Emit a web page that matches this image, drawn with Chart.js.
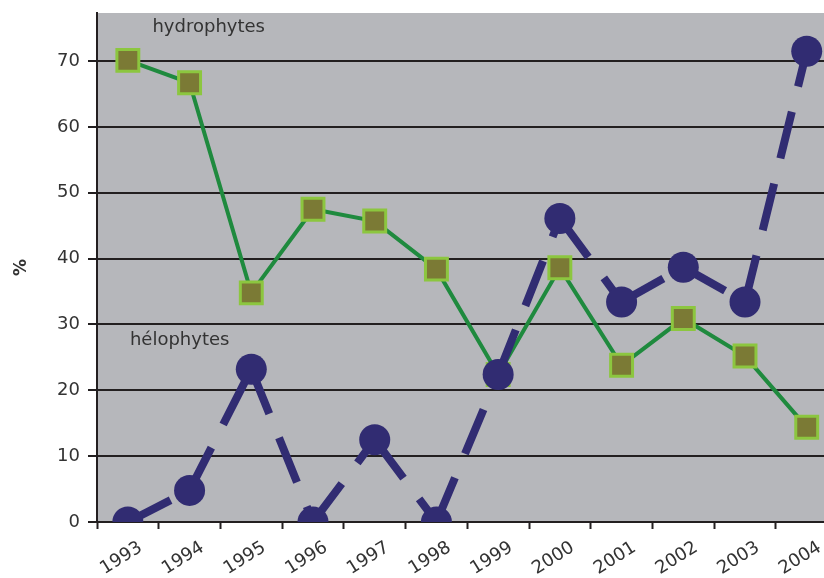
<!DOCTYPE html>
<html>
<head>
<meta charset="utf-8">
<script src="https://cdn.jsdelivr.net/npm/chart.js@4/dist/chart.umd.min.js"></script>
<style>
  html, body { margin: 0; padding: 0; background: #ffffff; overflow: hidden; }
  #wrap { width: 824px; height: 578px; }
</style>
</head>
<body>
<div id="wrap"><canvas id="chart" width="824" height="578"></canvas></div>
<script>
// Share of each plant group per year (%)
const years = ['1993', '1994', '1995', '1996', '1997', '1998', '1999', '2000', '2001', '2002', '2003', '2004'];
const hydrophytes = [70.1, 66.7, 34.8, 47.5, 45.7, 38.4, 22.4, 38.6, 23.8, 30.9, 25.2, 14.4];
const helophytes = [0, 4.8, 23.2, 0, 12.5, 0, 22.4, 46.1, 33.4, 38.7, 33.4, 71.5];
const yTicks = [0, 10, 20, 30, 40, 50, 60, 70];

// In-plot series names, anchored in data units
const seriesNotes = [
  { text: 'hydrophytes', at: [1.31, 75.1] },
  { text: 'hélophytes', at: [0.84, 27.6] }
];

const COLORS = {
  plot: '#b6b7bb',
  grid: '#231f20',
  text: '#333333',
  helo: '#312c72',
  hydroLine: '#1f8a3e',
  hydroFill: '#7b7a35',
  hydroEdge: '#8cc63f'
};
const FONT = 'DejaVu Sans';

const plotBackground = {
  id: 'plotBackground',
  beforeDraw(chart) {
    const { ctx, chartArea: a } = chart;
    ctx.save();
    ctx.fillStyle = COLORS.plot;
    ctx.fillRect(a.left, a.top, a.right - a.left, a.bottom - a.top);
    ctx.restore();
  }
};

const seriesNames = {
  id: 'seriesNames',
  afterDatasetsDraw(chart) {
    const { ctx, scales } = chart;
    ctx.save();
    ctx.font = '18px "' + FONT + '"';
    ctx.fillStyle = COLORS.text;
    ctx.textAlign = 'center';
    ctx.textBaseline = 'middle';
    seriesNotes.forEach(n => {
      ctx.fillText(n.text, scales.x.getPixelForValue(n.at[0]), scales.y.getPixelForValue(n.at[1]));
    });
    ctx.restore();
  }
};

new Chart(document.getElementById('chart'), {
  type: 'line',
  data: {
    datasets: [
      {
        label: 'hélophytes',
        data: helophytes.map((v, i) => ({ x: i, y: v })),
        borderColor: COLORS.helo,
        borderWidth: 8,
        borderDash: [48, 26],
        borderCapStyle: 'butt',
        // each year-to-year segment starts its own dash pattern
        segment: { borderDashOffset: c => (c.p0DataIndex % 2) * 0.001 },
        pointStyle: 'circle',
        pointRadius: 15.5,
        pointBorderWidth: 0,
        pointBackgroundColor: COLORS.helo,
        pointBorderColor: COLORS.helo,
        tension: 0,
        fill: false
      },
      {
        label: 'hydrophytes',
        data: hydrophytes.map((v, i) => ({ x: i, y: v })),
        borderColor: COLORS.hydroLine,
        borderWidth: 4,
        pointStyle: 'rect',
        pointRadius: 15.5,
        pointBorderWidth: 3,
        pointBackgroundColor: COLORS.hydroFill,
        pointBorderColor: COLORS.hydroEdge,
        tension: 0,
        fill: false
      }
    ]
  },
  options: {
    responsive: false,
    animation: false,
    events: [],
    layout: { autoPadding: false, padding: { top: 13, right: 0, bottom: 0, left: 0 } },
    plugins: { legend: { display: false }, tooltip: { enabled: false } },
    scales: {
      x: {
        type: 'linear',
        min: -0.5,
        max: 11.28,
        afterBuildTicks: s => { s.ticks = years.map((_, i) => ({ value: i })); },
        afterFit: s => { s.height = 56; s.paddingLeft = 0; s.paddingRight = 0; },
        ticks: {
          autoSkip: false,
          minRotation: 32,
          maxRotation: 32,
          labelOffset: 13,
          padding: 8,
          color: COLORS.text,
          font: { family: FONT, size: 18 },
          callback: v => years[v]
        },
        grid: {
          offset: true,
          drawOnChartArea: false,
          drawTicks: true,
          tickLength: 7,
          tickWidth: 2,
          tickColor: COLORS.grid
        },
        border: { display: false }
      },
      y: {
        min: 0,
        max: 77.3,
        afterBuildTicks: s => { s.ticks = yTicks.map(v => ({ value: v })); },
        afterFit: s => { s.width = 97; s.paddingTop = 0; s.paddingBottom = 0; },
        ticks: {
          padding: 8,
          color: COLORS.text,
          font: { family: FONT, size: 18 }
        },
        grid: {
          color: COLORS.grid,
          lineWidth: 2,
          drawTicks: true,
          tickLength: 9,
          tickColor: COLORS.grid
        },
        border: { display: true, color: COLORS.grid, width: 2 },
        title: {
          display: true,
          text: '%',
          color: COLORS.text,
          font: { family: FONT, size: 17, weight: 'bold' },
          padding: { top: 11, bottom: 0 }
        }
      }
    }
  },
  plugins: [plotBackground, seriesNames]
});
</script>
</body>
</html>
